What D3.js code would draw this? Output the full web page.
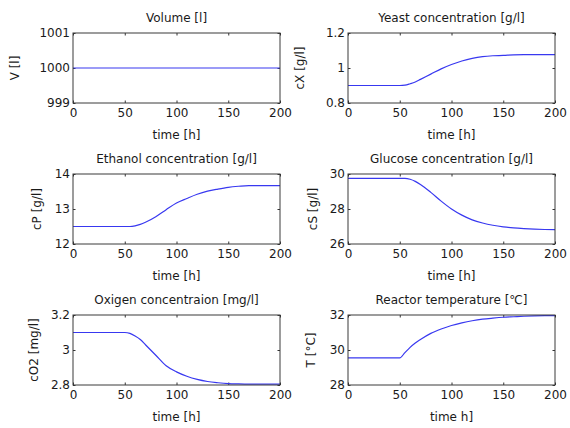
<!DOCTYPE html>
<html>
<head>
<meta charset="utf-8">
<script src="https://cdn.jsdelivr.net/npm/d3@7"></script>
<style>
  body { margin: 0; background: #fff; }
  text { font-family: "DejaVu Sans", sans-serif; font-size: 12px; fill: #1a1a1a; }
</style>
</head>
<body>
<div id="chart-area"></div>
<script>
const WIDTH = 570
const HEIGHT = 428

// data
const times = [0, 50, 55, 60, 65, 70, 80, 90, 100, 110, 120, 130, 140, 150, 160, 170, 180, 190, 200]
const volume = [1000, 1000, 1000, 1000, 1000, 1000, 1000, 1000, 1000, 1000, 1000, 1000, 1000, 1000, 1000, 1000, 1000, 1000, 1000]
const yeast = [0.9, 0.9, 0.902, 0.91, 0.92, 0.935, 0.965, 0.995, 1.02, 1.04, 1.055, 1.065, 1.07, 1.072, 1.075, 1.076, 1.076, 1.076, 1.076]
const ethanol = [12.5, 12.5, 12.5, 12.52, 12.56, 12.62, 12.78, 12.98, 13.17, 13.3, 13.42, 13.51, 13.57, 13.62, 13.65, 13.67, 13.67, 13.67, 13.67]
const glucose = [29.75, 29.75, 29.75, 29.7, 29.58, 29.4, 28.95, 28.45, 28.0, 27.65, 27.38, 27.2, 27.07, 26.98, 26.92, 26.88, 26.85, 26.83, 26.82]
const oxygen = [3.1, 3.1, 3.095, 3.08, 3.06, 3.03, 2.97, 2.91, 2.875, 2.85, 2.832, 2.82, 2.813, 2.808, 2.806, 2.805, 2.805, 2.805, 2.805]
const temperature = [29.55, 29.55, 29.85, 30.15, 30.4, 30.6, 30.95, 31.2, 31.4, 31.55, 31.67, 31.76, 31.82, 31.87, 31.9, 31.93, 31.95, 31.96, 31.96]

const titles = ["Volume [l]", "Yeast concentration [g/l]", "Ethanol concentration [g/l]",
  "Glucose concentration [g/l]", "Oxigen concentraion [mg/l]", "Reactor temperature [\u2103]"]
const yLabels = ["V [l]", "cX  [g/l]", "cP [g/l]", "cS [g/l]", "cO2 [mg/l]", "T [\u00b0C]"]
const xLabels = ["time [h]", "time [h]", "time [h]", "time [h]", "time [h]", "time h]"]
const xTicks = [0, 50, 100, 150, 200]
const yTicks = [[999, 1000, 1001], [0.8, 1, 1.2], [12, 13, 14], [26, 28, 30], [2.8, 3, 3.2], [28, 30, 32]]
const series = [volume, yeast, ethanol, glucose, oxygen, temperature]

// layout
const COL_X = [73, 348]
const ROW_Y = [33, 174, 315]
const PW = 207
const PH = 70
const YLABEL_OFF = [58, 48, 36, 35, 39, 37]

const svg = d3.select("#chart-area").append("svg")
  .attr("width", WIDTH)
  .attr("height", HEIGHT)

svg.append("rect").attr("width", WIDTH).attr("height", HEIGHT).attr("fill", "#fff")

const x = d3.scaleLinear().domain([0, 200]).range([0, PW])

series.forEach((values, i) => {
  const col = i % 2
  const row = Math.floor(i / 2)
  const g = svg.append("g")
    .attr("transform", `translate(${COL_X[col]}, ${ROW_Y[row]})`)

  const ticks = yTicks[i]
  const y = d3.scaleLinear().domain([ticks[0], ticks[ticks.length - 1]]).range([PH, 0])

  // axes, ticks pointing inwards on all four sides
  g.append("g").attr("transform", `translate(0, ${PH})`)
    .call(d3.axisBottom(x).tickValues(xTicks).tickSize(-2.5).tickPadding(5).tickFormat(d3.format("d")))
  g.append("g")
    .call(d3.axisTop(x).tickValues(xTicks).tickSize(-2.5).tickFormat(""))
  g.append("g")
    .call(d3.axisLeft(y).tickValues(ticks).tickSize(-2.5).tickPadding(3).tickFormat(d => String(d)))
  g.append("g").attr("transform", `translate(${PW}, 0)`)
    .call(d3.axisRight(y).tickValues(ticks).tickSize(-2.5).tickFormat(""))

  g.selectAll(".domain").remove()
  g.selectAll(".tick line").attr("stroke", "#333")
  g.selectAll(".tick text").attr("font-size", "12px").attr("font-family", "DejaVu Sans, sans-serif").attr("fill", "#1a1a1a")

  // the line
  const line = d3.line()
    .x((d, j) => x(times[j]))
    .y(d => y(d))
    .curve(d3.curveMonotoneX)
  g.append("path")
    .datum(values)
    .attr("fill", "none")
    .attr("stroke", "#3838f0")
    .attr("stroke-width", 1.2)
    .attr("d", line)

  // frame
  g.append("rect")
    .attr("width", PW).attr("height", PH)
    .attr("fill", "none").attr("stroke", "#3a3a3a").attr("stroke-width", 1)

  // labels
  g.append("text")
    .attr("x", PW / 2).attr("y", -11)
    .attr("text-anchor", "middle")
    .text(titles[i])
  g.append("text")
    .attr("x", PW / 2).attr("y", PH + 36)
    .attr("text-anchor", "middle")
    .text(xLabels[i])
  g.append("text")
    .attr("transform", `translate(${-YLABEL_OFF[i]}, ${PH / 2}) rotate(-90)`)
    .attr("dy", "0.35em")
    .attr("text-anchor", "middle")
    .text(yLabels[i])
})
</script>
</body>
</html>
